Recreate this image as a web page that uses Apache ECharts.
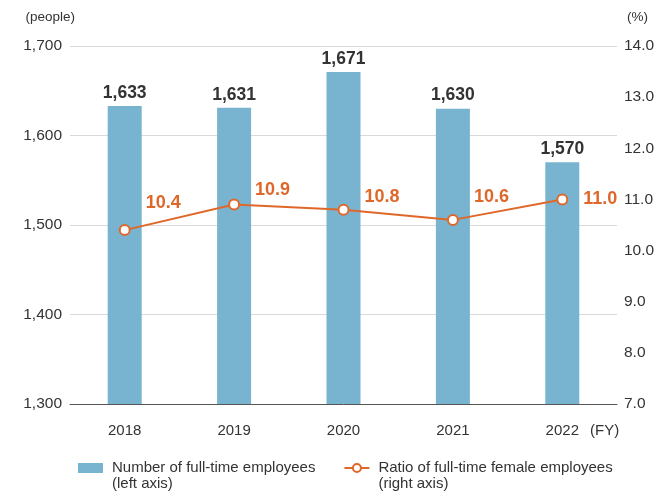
<!DOCTYPE html>
<html>
<head>
<meta charset="utf-8">
<script src="https://cdn.jsdelivr.net/npm/echarts@6/dist/echarts.min.js"></script>
<style>
  html, body { margin: 0; padding: 0; background: #fff; }
  #chart { width: 665px; height: 496px; }
</style>
</head>
<body>
<div id="chart"></div>
<script>
const years = ["2018", "2019", "2020", "2021", "2022"];
const employees = [1633, 1631, 1671, 1630, 1570];
const femaleRatio = [10.4, 10.9, 10.8, 10.6, 11.0];
const leftTicks = { min: 1300, max: 1700, step: 100 };
const rightTicks = { min: 7, max: 14, step: 1 };

// hand-placed label lifts for the ratio labels
const ratioLabelLift = [-27, -15, -13, -23, 0];

const font = "'Liberation Sans', Arial, sans-serif";
const barColor = "#78b4d0";
const lineColor = "#e0672a";
const barName = "Number of full-time employees\n(left axis)";
const lineName = "Ratio of full-time female employees\n(right axis)";

const chart = echarts.init(document.getElementById("chart"));

const option = {
  animation: false,
  textStyle: { fontFamily: font },
  grid: { left: 70, right: 48, top: 46, bottom: 92 },
  legend: {
    bottom: 4,
    left: 78,
    padding: 0,
    itemGap: 28,
    itemWidth: 25,
    itemHeight: 10,
    // blank first line keeps the icon level with the first text line
    formatter: (name) => "\n" + name,
    textStyle: {
      fontFamily: font,
      fontSize: 15,
      color: "#333",
      lineHeight: 16,
      padding: [0, 0, 0, 4],
    },
    data: [
      { name: barName, icon: "rect" },
      { name: lineName },
    ],
  },
  xAxis: {
    type: "category",
    data: years,
    axisLine: { lineStyle: { color: "#555", width: 1 } },
    axisTick: { show: false },
    axisLabel: { color: "#333", fontSize: 15, margin: 19, fontFamily: font },
  },
  yAxis: [
    {
      type: "value",
      min: leftTicks.min,
      max: leftTicks.max,
      interval: leftTicks.step,
      name: "(people)",
      nameGap: 22,
      nameTextStyle: { color: "#333", fontSize: 13.5, align: "right", padding: [0, -5, 0, 0] },
      axisLine: { show: false },
      axisTick: { show: false },
      axisLabel: {
        color: "#333",
        fontSize: 15.5,
        margin: 8,
        formatter: (v) => v.toLocaleString("en-US"),
      },
      splitLine: { lineStyle: { color: "#d9d9d9" } },
    },
    {
      type: "value",
      min: rightTicks.min,
      max: rightTicks.max,
      interval: rightTicks.step,
      name: "(%)",
      nameGap: 22,
      nameTextStyle: { color: "#333", fontSize: 13.5, align: "left", padding: [0, 0, 0, 10] },
      axisLine: { show: false },
      axisTick: { show: false },
      axisLabel: {
        color: "#333",
        fontSize: 15.5,
        margin: 7,
        formatter: (v) => v.toFixed(1),
      },
      splitLine: { show: false },
    },
  ],
  graphic: [
    {
      type: "text",
      left: 590,
      top: 423,
      style: { text: "(FY)", fill: "#333", fontSize: 15, fontFamily: font },
    },
  ],
  series: [
    {
      name: barName,
      type: "bar",
      data: employees,
      barWidth: 34,
      itemStyle: { color: barColor },
      label: {
        show: true,
        position: "top",
        distance: 4,
        color: "#333",
        fontSize: 17.5,
        fontWeight: "bold",
        fontFamily: font,
        formatter: (p) => p.value.toLocaleString("en-US"),
      },
    },
    {
      name: lineName,
      type: "line",
      yAxisIndex: 1,
      data: femaleRatio.map((v, i) => ({
        value: v,
        label: { offset: [0, ratioLabelLift[i]] },
      })),
      symbol: "circle",
      symbolSize: 10,
      lineStyle: { color: lineColor, width: 2 },
      itemStyle: { color: "#fff", borderColor: lineColor, borderWidth: 2 },
      label: {
        show: true,
        position: "right",
        distance: 15,
        color: lineColor,
        fontSize: 18,
        fontWeight: "bold",
        fontFamily: font,
        formatter: (p) => p.value.toFixed(1),
      },
      z: 5,
    },
  ],
};

chart.setOption(option);
</script>
</body>
</html>
